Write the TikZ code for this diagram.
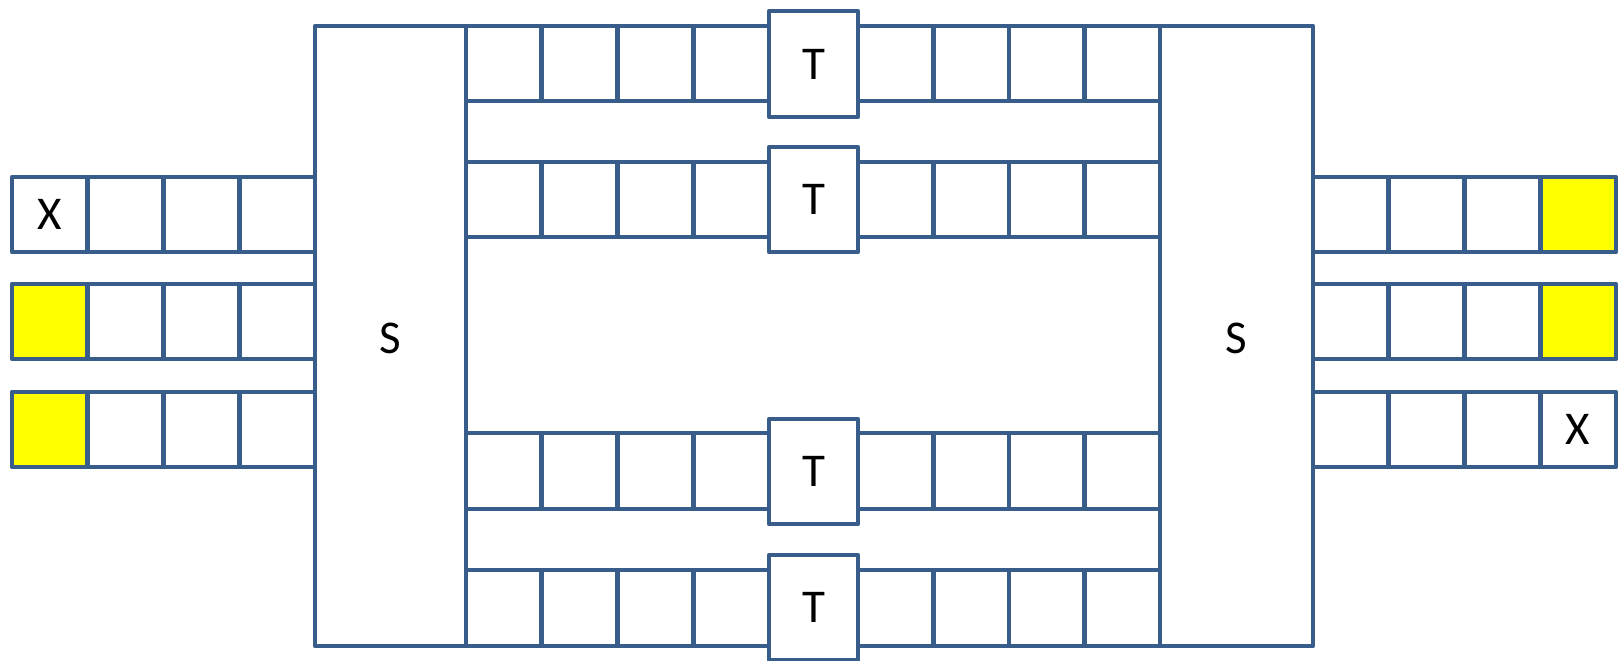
\documentclass[tikz,border=0pt]{standalone}
\usepackage{fontspec}
\setmainfont{Carlito}
\definecolor{qblue}{HTML}{385D8A}
\definecolor{qyellow}{HTML}{FFFF00}
\begin{document}
\begin{tikzpicture}[x=1pt,y=-1pt,
  box/.style={draw=qblue, line width=4.6pt, fill=white, inner sep=0pt, outer sep=0pt,
    font=\fontsize{47}{52}\selectfont, text=black, line join=round, rectangle}]
\useasboundingbox (0,0) rectangle (1618,661);
\newcommand\cellbox[7]{%
  \node[box, fill=#6, minimum width={#4-#2}, minimum height={#5-#3}]
    (#1) at ({(#2+#4)/2},{(#3+#5)/2}) {#7};}
% S boxes
\cellbox{SL}{315}{26}{466}{646}{white}{}
\cellbox{SR}{1160}{26}{1313}{646}{white}{}
\node at (390,338) [font=\fontsize{47}{52}\selectfont] (SLlab) {S};
\node at (1236,338) [font=\fontsize{47}{52}\selectfont] (SRlab) {S};
% left queues
\foreach \r/\ya/\yb/\fc/\tx in {1/177/252/white/X, 2/284/359/qyellow/{}, 3/392/467/qyellow/{}}{
  \cellbox{L\r c1}{12}{\ya}{87.75}{\yb}{\fc}{\tx}
  \foreach \c in {2,3,4}{
    \pgfmathsetmacro\xa{12+(\c-1)*75.75}
    \pgfmathsetmacro\xb{12+\c*75.75}
    \cellbox{L\r c\c}{\xa}{\ya}{\xb}{\yb}{white}{}
  }
}
% right queues
\foreach \r/\ya/\yb/\fc/\tx in {1/177/252/qyellow/{}, 2/284/359/qyellow/{}, 3/392/467/white/X}{
  \foreach \c in {1,2,3}{
    \pgfmathsetmacro\xa{1313+(\c-1)*75.75}
    \pgfmathsetmacro\xb{1313+\c*75.75}
    \cellbox{R\r c\c}{\xa}{\ya}{\xb}{\yb}{white}{}
  }
  \cellbox{R\r c4}{1540.25}{\ya}{1616}{\yb}{\fc}{\tx}
}
% middle queues with T boxes
\foreach \m/\ya/\yb/\ta/\tb in {1/26/101/11/117, 2/162/237/147/252, 3/433/509/419/524, 4/570/646/555/660}{
  \foreach \c in {1,2,3,4}{
    \pgfmathsetmacro\xa{466+(\c-1)*75.75}
    \pgfmathsetmacro\xb{466+\c*75.75}
    \cellbox{M\m a\c}{\xa}{\ya}{\xb}{\yb}{white}{}
    \pgfmathsetmacro\xc{858+(\c-1)*75.5}
    \pgfmathsetmacro\xd{858+\c*75.5}
    \cellbox{M\m b\c}{\xc}{\ya}{\xd}{\yb}{white}{}
  }
  \cellbox{T\m}{769}{\ta}{858}{\tb}{white}{T}
}
\end{tikzpicture}
\end{document}
